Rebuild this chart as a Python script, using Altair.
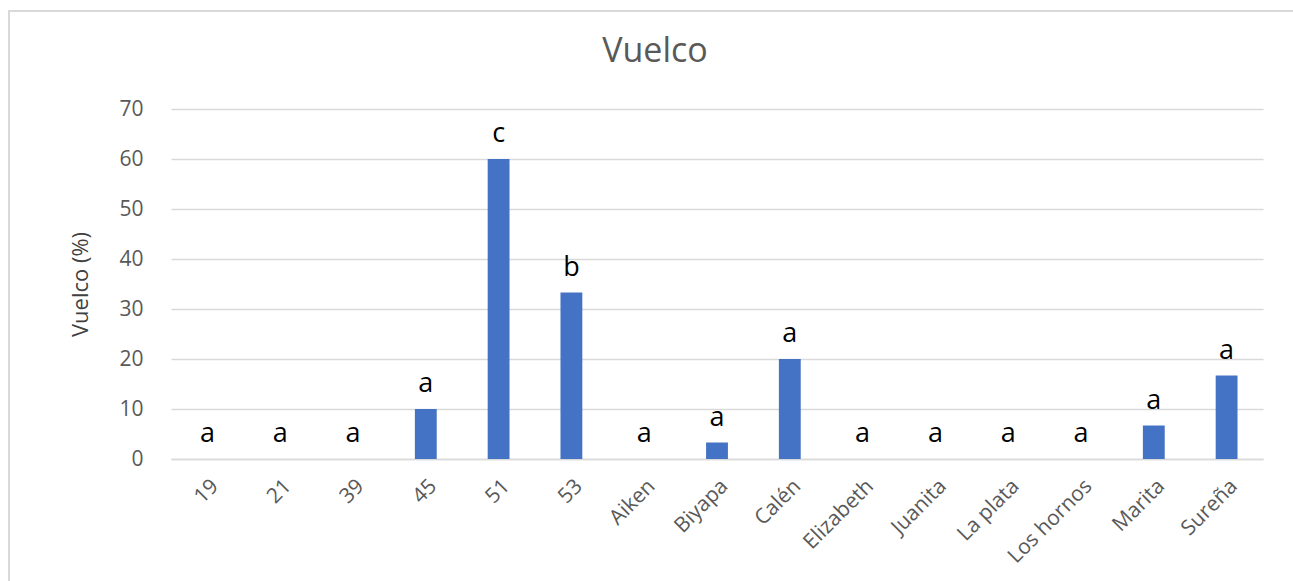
import altair as alt
import pandas as pd

categories = ["19", "21", "39", "45", "51", "53", "Aiken", "Biyapa", "Calén",
              "Elizabeth", "Juanita", "La plata", "Los hornos", "Marita", "Sureña"]
values = [0, 0, 0, 10, 60, 33.3, 0, 3.3, 20, 0, 0, 0, 0, 6.7, 16.7]
letters = ["a", "a", "a", "a", "c", "b", "a", "a", "a", "a", "a", "a", "a", "a", "a"]
chart_title = ["Vuelco"]

df = pd.DataFrame({"cat": categories, "val": values, "lab": letters})

FONT = "Open Sans"
W, H = 1092, 350

x = alt.X("cat:N", sort=categories, title=None,
          scale=alt.Scale(paddingInner=0.7, paddingOuter=0.35),
          axis=alt.Axis(labelAngle=-45, labelFontSize=21, labelColor="#595959",
                        labelFont=FONT, ticks=False, domainColor="#d9d9d9",
                        domainWidth=1.5, labelPadding=16))
y = alt.Y("val:Q", title="Vuelco (%)",
          scale=alt.Scale(domain=[0, 70], nice=False),
          axis=alt.Axis(values=[0, 10, 20, 30, 40, 50, 60, 70], domain=False,
                        ticks=False, gridColor="#d9d9d9", gridWidth=1.5,
                        labelFontSize=21, labelColor="#595959", labelFont=FONT,
                        labelPadding=28, titleFontSize=22, titleFont=FONT,
                        titleColor="#404040", titleFontWeight="normal",
                        titlePadding=26))

bars = alt.Chart(df).mark_bar(color="#4472C4").encode(x=x, y=y)
text = alt.Chart(df).mark_text(baseline="bottom", dy=-11, fontSize=27,
                               font=FONT, color="#000000").encode(
    x=alt.X("cat:N", sort=categories), y=alt.Y("val:Q"), text="lab:N")

border = alt.Chart(pd.DataFrame({"b": [0]})).mark_rect(
    fill=None, stroke="#d9d9d9", strokeWidth=2).encode(
    x=alt.value(-162), x2=alt.value(1140), y=alt.value(-98), y2=alt.value(490))

title = alt.Chart(pd.DataFrame({"t": chart_title})).mark_text(
    fontSize=34, font=FONT, color="#595959", baseline="bottom", align="center").encode(
    x=alt.value(484), y=alt.value(-40), text="t:N")

chart = alt.layer(border, bars, text, title).properties(
    width=W, height=H,
    autosize=alt.AutoSizeParams(type="none"),
    padding={"left": 171, "top": 109, "right": 30, "bottom": 122},
).configure(background="white").configure_view(stroke=None)

chart.save("out.html", embed_options={"renderer": "svg", "actions": False})
